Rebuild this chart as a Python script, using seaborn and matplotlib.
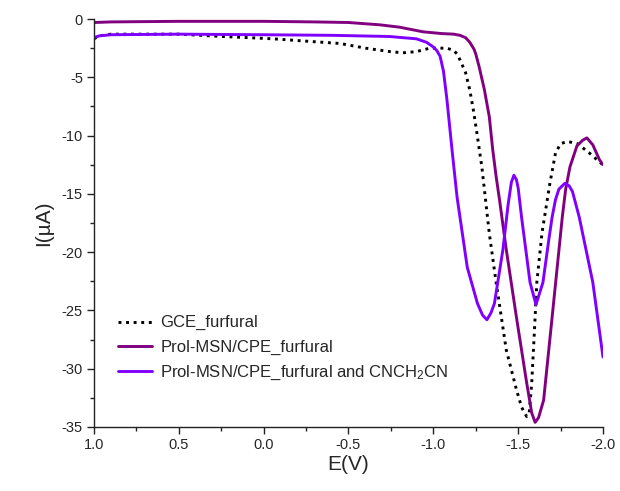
import matplotlib
matplotlib.use("Agg")
import matplotlib.pyplot as plt
from matplotlib.ticker import MultipleLocator
import seaborn as sns
import pandas as pd

# ---- data ----
gce_E = [1.0, 0.97, 0.9, 0.5, 0.24, -0.055, -0.25, -0.45, -0.6, -0.745, -0.82, -0.90, -0.98,
         -1.08, -1.12, -1.14, -1.157, -1.19, -1.215, -1.237, -1.257, -1.286, -1.33, -1.37, -1.43,
         -1.49, -1.52, -1.55, -1.565, -1.58, -1.595, -1.61, -1.64, -1.687, -1.72, -1.75, -1.79,
         -1.85, -1.92, -1.99, -2.0]
gce_I = [-1.7, -1.45, -1.3, -1.3, -1.5, -1.7, -1.9, -2.1, -2.5, -2.8, -2.9, -2.8, -2.5,
         -2.5, -2.7, -3.0, -3.5, -4.6, -6.1, -7.9, -9.8, -12.7, -18.4, -22.6, -28.4,
         -31.8, -33.3, -34.1, -33.8, -31.2, -27.0, -22.6, -18.4, -14.1, -11.5, -10.7, -10.5,
         -10.7, -11.5, -12.4, -12.5]

prol_E = [1.0, 0.9, 0.5, 0.0, -0.3, -0.5, -0.685, -0.8, -0.94, -1.05, -1.12, -1.157, -1.19,
          -1.215, -1.24, -1.25, -1.27, -1.30, -1.33, -1.35, -1.37, -1.39, -1.43, -1.49, -1.55,
          -1.58, -1.60, -1.62, -1.65, -1.70, -1.76, -1.78, -1.805, -1.846, -1.88, -1.905, -1.94,
          -1.98, -2.0]
prol_I = [-0.3, -0.25, -0.2, -0.2, -0.25, -0.3, -0.5, -0.7, -1.1, -1.25, -1.3, -1.4, -1.6,
          -2.0, -2.6, -3.0, -4.1, -6.0, -8.4, -11.2, -13.5, -15.5, -19.8, -25.6, -31.2,
          -33.8, -34.6, -34.2, -32.7, -25.6, -17.0, -14.6, -12.7, -10.9, -10.4, -10.2, -10.8,
          -12.1, -12.5]

cn_E = [1.0, 0.97, 0.9, 0.5, 0.0, -0.4, -0.74, -0.9, -0.96, -1.0, -1.02, -1.04, -1.06, -1.08,
        -1.11, -1.14, -1.157, -1.20, -1.26, -1.29, -1.316, -1.34, -1.36, -1.41, -1.44, -1.46,
        -1.475, -1.49, -1.50, -1.52, -1.57, -1.605, -1.646, -1.68, -1.70, -1.72, -1.74, -1.775,
        -1.80, -1.82, -1.86, -1.94, -2.0]
cn_I = [-1.6, -1.45, -1.35, -1.3, -1.35, -1.4, -1.5, -1.7, -2.0, -2.4, -2.7, -3.2, -4.5, -6.9,
        -11.2, -15.3, -17.0, -21.3, -24.4, -25.4, -25.8, -25.2, -24.4, -19.8, -16.0, -14.0,
        -13.4, -13.8, -14.5, -17.0, -22.6, -24.5, -22.6, -19.0, -17.0, -15.5, -14.6, -14.1,
        -14.3, -14.8, -17.0, -22.6, -29.0]

labels = ["GCE_furfural", "Prol-MSN/CPE_furfural", "Prol-MSN/CPE_furfural and CNCH$_2$CN"]
colors = ["#000000", "#800080", "#8000ff"]

x_ticks = [1.0, 0.5, 0.0, -0.5, -1.0, -1.5, -2.0]
x_tick_labels = ["1.0", "0.5", "0.0", "-0.5", "-1.0", "-1.5", "-2.0"]
y_ticks = [0, -5, -10, -15, -20, -25, -30, -35]
y_tick_labels = ["0", "-5", "-10", "-15", "-20", "-25", "-30", "-35"]

sns.set_theme(style="ticks")
plt.rcParams['font.family'] = ['Liberation Sans', 'DejaVu Sans']
plt.rcParams['axes.unicode_minus'] = False
plt.rcParams['mathtext.fontset'] = 'custom'
plt.rcParams['mathtext.rm'] = 'Liberation Sans'
plt.rcParams['mathtext.it'] = 'Liberation Sans'

fig = plt.figure(figsize=(6.2, 4.91), dpi=100)
ax = fig.add_axes([94/620, 1-427/491, 509/620, 408/491])

series = [(gce_E, gce_I), (prol_E, prol_I), (cn_E, cn_I)]
styles = [(0, (1, 1.6)), "-", "-"]
for (E, I), lab, c, ls in zip(series, labels, colors, styles):
    df = pd.DataFrame({"E": E, "I": I})
    sns.lineplot(data=df, x="E", y="I", ax=ax, sort=False, estimator=None,
                 color=c, linestyle=ls, linewidth=2.1, label=lab)

ax.set_xlim(1.0, -2.0)
ax.set_ylim(-35, 0)
ax.set_xticks(x_ticks)
ax.set_xticklabels(x_tick_labels)
ax.set_yticks(y_ticks)
ax.set_yticklabels(y_tick_labels)
ax.xaxis.set_minor_locator(MultipleLocator(0.25))
ax.yaxis.set_minor_locator(MultipleLocator(2.5))
ax.tick_params(which="major", direction="out", length=5, width=1, labelsize=10.5, color="#222222", pad=3)
ax.tick_params(which="minor", direction="out", length=3, width=1, color="#222222")
for s in ["top", "right"]:
    ax.spines[s].set_visible(False)
for s in ["left", "bottom"]:
    ax.spines[s].set_color("#222222")
    ax.spines[s].set_linewidth(1.0)

ax.set_xlabel("E(V)", fontsize=15, labelpad=2)
ax.set_ylabel("I(\u00b5A)", fontsize=15, labelpad=6)

leg = ax.legend(loc="upper left", bbox_to_anchor=(0.035, 0.29), frameon=False,
                fontsize=12, handlelength=2.0, handletextpad=0.5, labelspacing=0.55,
                borderaxespad=0)

fig.savefig("out.png", dpi=100)
